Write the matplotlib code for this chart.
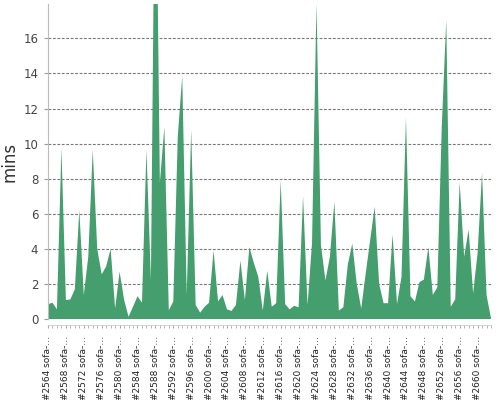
import matplotlib
matplotlib.use("Agg")
import matplotlib.pyplot as plt
import numpy as np

# build numbers 2564..2663, one value (mins) per build
builds = list(range(2564, 2664))
mins = [0.84, 0.93, 0.55, 9.73, 1.08, 1.12, 1.7, 6.2, 1.37, 3.55,
        9.65, 4.0, 2.55, 3.0, 4.0, 0.6, 2.7, 1.1, 0.13, 0.7,
        1.3, 0.93, 9.65, 2.2, 30.0, 7.75, 10.95, 0.5, 1.0, 10.4,
        13.85, 1.37, 10.8, 0.8, 0.36, 0.7, 0.93, 3.9, 1.0, 1.37,
        0.55, 0.46, 0.8, 3.33, 1.08, 4.1, 3.2, 2.4, 0.48, 2.75,
        0.7, 0.9, 7.9, 0.85, 0.55, 0.75, 0.67, 7.0, 0.8, 4.3,
        18.0, 4.2, 2.2, 3.55, 6.7, 0.48, 0.67, 3.1, 4.3, 2.0,
        0.6, 2.6, 4.5, 6.4, 2.0, 0.9, 0.9, 4.8, 0.85, 2.4,
        11.5, 1.3, 1.0, 2.1, 2.25, 4.1, 1.37, 1.8, 11.0, 17.05,
        0.7, 1.12, 7.8, 3.55, 5.1, 1.46, 3.75, 8.35, 1.37, 0.04]
labels = ["#%d sofa-\u2026" % b for b in builds]
yticks = [0, 2, 4, 6, 8, 10, 12, 14, 16]

green = "#459e6d"

fig = plt.figure(figsize=(5, 4), dpi=100)
ax = fig.add_axes([0.096, 0.2025, 0.886, 0.7875])

# spines first: set_position resets the ticks
for s in ["top", "right"]:
    ax.spines[s].set_visible(False)
ax.spines["left"].set_color("#bbbbbb")
ax.spines["bottom"].set_position(("outward", 4))
ax.spines["bottom"].set_color("#cccccc")
ax.spines["bottom"].set_linewidth(0.6)

x = np.arange(len(mins))
ax.fill_between(x, 0, mins, color=green, linewidth=0, zorder=2)

ax.set_xlim(0, len(mins) - 1)
ax.set_ylim(0, 17.96)

# y axis
ax.set_yticks(yticks)
ax.set_yticklabels([str(v) for v in yticks], fontsize=8.5, color="#444444")
ax.tick_params(axis="y", length=3, color="#999999", pad=4)
for v in yticks[1:]:
    ax.axhline(v, color="#777777", linewidth=0.8, linestyle=(0, (2.5, 1.5)), zorder=1)
ax.set_ylabel("mins", fontsize=12, color="#333333")
ax.yaxis.set_label_coords(-0.066, 0.5)

# x axis: small tick per build, label every 4th
ax.set_xticks(x, minor=True)
ax.set_xticks(x[::4])
ax.set_xticklabels(labels[::4], rotation=90, fontsize=6.5, color="#222222")
ax.tick_params(axis="x", which="both", length=2, color="#aaaaaa", pad=6)

fig.savefig("out.png", dpi=100)
